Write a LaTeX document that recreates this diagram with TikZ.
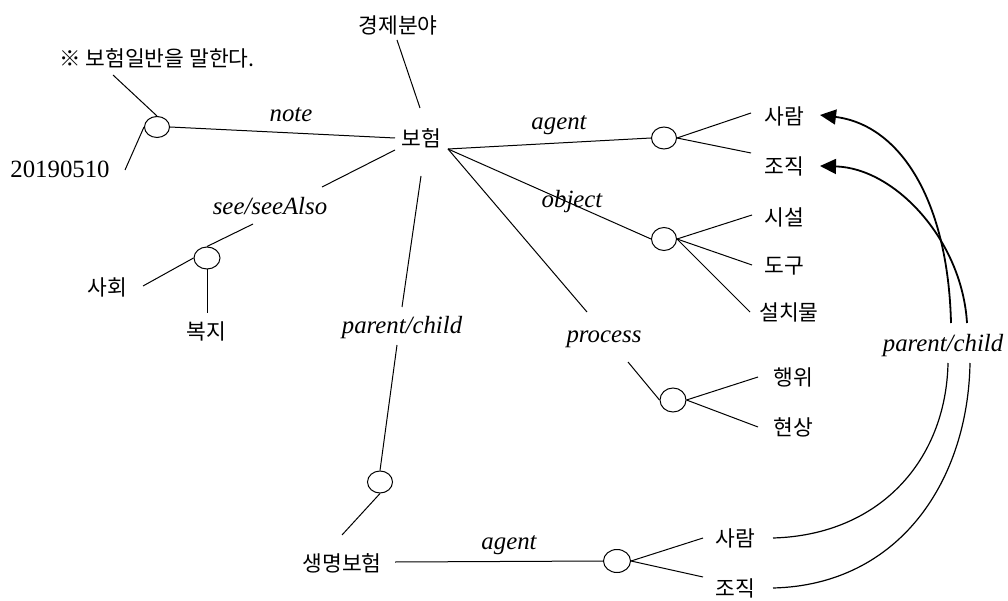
\documentclass[tikz,border=0pt]{standalone}
\usepackage{fontspec}
\setmainfont{Liberation Serif}
\newfontfamily\kr{Noto Sans CJK KR}
\usetikzlibrary{arrows.meta,shapes.geometric}
\begin{document}
\begin{tikzpicture}[x=1pt,y=-1pt,
  kt/.style={font=\kr\fontsize{21.5}{25}\selectfont, inner sep=0},
  lt/.style={font=\fontsize{24.8}{28}\selectfont\itshape, inner sep=0, anchor=base},
  rel/.style={draw, ellipse, inner sep=0, line width=1pt},
  ln/.style={line width=1pt},
  pcup/.style={line width=1.8pt},
  pclow/.style={line width=1.2pt},
  tip/.style={-{Triangle[length=16pt,width=15pt]}}
]
\useasboundingbox (0,0) rectangle (1008,601);

% ---- text nodes ----
\node[kt] (jj) at (398,25) {경제분야};
\node[kt] (nt) at (157,58) {※ 보험일반을 말한다.};
\node[kt] (bh) at (421,138) {보험};
\node[font=\fontsize{24.8}{28}\selectfont, inner sep=0, anchor=base] (date) at (60,178) {20190510};
\node[kt] (sr1) at (784,116) {사람};
\node[kt] (jk1) at (784,166) {조직};
\node[kt] (ss) at (784,217) {시설};
\node[kt] (dg) at (784,266) {도구};
\node[kt] (sc) at (789,312) {설치물};
\node[kt] (hw) at (793,377) {행위};
\node[kt] (hs) at (793,427) {현상};
\node[kt] (sh) at (107,287) {사회};
\node[kt] (bj) at (206,331) {복지};
\node[kt] (sm) at (342,563) {생명보험};
\node[kt] (sr2) at (735,538) {사람};
\node[kt] (jk2) at (735,588) {조직};

% ---- relation labels ----
\node[lt] (lnote) at (291,122) {note};
\node[lt] (lag) at (559,130) {agent};
\node[lt] (lob) at (572,208) {object};
\node[lt] (lpr) at (604,342) {process};
\node[lt] (lsee) at (270,215) {see/seeAlso};
\node[lt] (lpc1) at (402,333) {parent/child};
\node[lt] (lpc2) at (943,351) {parent/child};
\node[lt] (lag2) at (509,549) {agent};

% ---- relation circles ----
\node[rel, minimum width=25pt, minimum height=21pt] (cNote) at (157,127) {};
\node[rel, minimum width=25pt, minimum height=22pt] (cAg) at (664,138) {};
\node[rel, minimum width=25pt, minimum height=23pt] (cOb) at (664,239) {};
\node[rel, minimum width=26pt, minimum height=24pt] (cPr) at (673,400) {};
\node[rel, minimum width=26pt, minimum height=22pt] (cSee) at (207,258) {};
\node[rel, minimum width=25pt, minimum height=22pt] (cPar) at (380,482) {};
\node[rel, minimum width=27pt, minimum height=23pt] (cAg2) at (617,561) {};

% ---- connector ends next to texts ----
\coordinate (jjE) at (397,40);
\coordinate (bhT) at (420,108);
\coordinate (ntE) at (113,75);
\coordinate (dateE) at (125,170);
\coordinate (bhL) at (395,138);
\coordinate (bhSW) at (395,150);
\coordinate (seeA) at (322,187);
\coordinate (seeB) at (253,224);
\coordinate (shE) at (143,286);
\coordinate (bjE) at (207,313);
\coordinate (bhB) at (421,176);
\coordinate (pcA) at (402,307);
\coordinate (pcB) at (397,345);
\coordinate (smT) at (342,535);
\coordinate (smR) at (395,562);
\coordinate (bhR) at (448,149);
\coordinate (prA) at (587,312);
\coordinate (prB) at (628,362);
\coordinate (sr1E) at (751,113);
\coordinate (jk1E) at (751,153);
\coordinate (ssE) at (752,215);
\coordinate (dgE) at (752,265);
\coordinate (scE) at (750,312);
\coordinate (hwE) at (758,377);
\coordinate (hsE) at (758,427);
\coordinate (sr2E) at (703,538);
\coordinate (jk2E) at (703,577);
\coordinate (sr2R) at (773,538);
\coordinate (jk2R) at (773,588);
\coordinate (pcL1) at (948,363);
\coordinate (pcL2) at (970,363);
\coordinate (pcU1) at (951,323);
\coordinate (pcU2) at (967,323);
\coordinate (sr1A) at (820,115);
\coordinate (jk1A) at (820,166);

% ---- straight connectors ----
\draw[ln] (jjE) -- (bhT);
\draw[ln] (ntE) -- (cNote.north);
\draw[ln] (cNote.west) -- (dateE);
\draw[ln] (cNote.east) -- (bhL);
\draw[ln] (bhSW) -- (seeA);
\draw[ln] (seeB) -- (cSee.north);
\draw[ln] (cSee.west) -- (shE);
\draw[ln] (cSee.south) -- (bjE);
\draw[ln] (bhB) -- (pcA);
\draw[ln] (pcB) -- (cPar.north);
\draw[ln] (cPar.south) -- (smT);
\draw[ln] (smR) -- (cAg2.west);
\draw[ln] (cAg2.east) -- (sr2E);
\draw[ln] (cAg2.east) -- (jk2E);
\draw[ln] (bhR) -- (cAg.west);
\draw[ln] (bhR) -- (cOb.west);
\draw[ln] (bhR) -- (prA);
\draw[ln] (prB) -- (cPr.west);
\draw[ln] (cAg.east) -- (sr1E);
\draw[ln] (cAg.east) -- (jk1E);
\draw[ln] (cOb.east) -- (ssE);
\draw[ln] (cOb.east) -- (dgE);
\draw[ln] (cOb.east) -- (scE);
\draw[ln] (cPr.east) -- (hwE);
\draw[ln] (cPr.east) -- (hsE);

% ---- parent/child curves ----
\draw[pclow] (sr2R) .. controls (880,535) and (946,460) .. (pcL1);
\draw[pclow] (jk2R) .. controls (900,585) and (968,480) .. (pcL2);
\draw[pcup,tip] (pcU1) .. controls (948,200) and (900,125) .. (sr1A);
\draw[pcup,tip] (pcU2) .. controls (962,240) and (895,168) .. (jk1A);
\end{tikzpicture}
\end{document}
